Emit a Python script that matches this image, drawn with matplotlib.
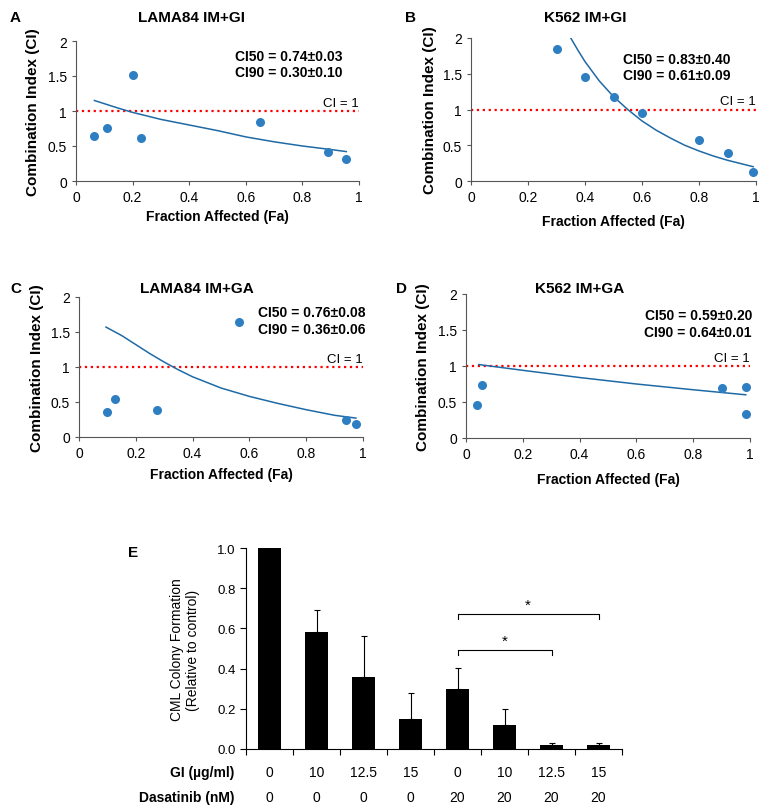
import matplotlib
matplotlib.use('Agg')
import matplotlib.pyplot as plt
import matplotlib.transforms as mtransforms
import numpy as np

plt.rcParams['font.family'] = ['Liberation Sans', 'DejaVu Sans']

# combination index panels
titles = ['LAMA84 IM+GI', 'K562 IM+GI', 'LAMA84 IM+GA', 'K562 IM+GA']
letters = ['A', 'B', 'C', 'D']
ci_text = ['CI50 = 0.74\u00b10.03\nCI90 = 0.30\u00b10.10',
           'CI50 = 0.83\u00b10.40\nCI90 = 0.61\u00b10.09',
           'CI50 = 0.76\u00b10.08\nCI90 = 0.36\u00b10.06',
           'CI50 = 0.59\u00b10.20\nCI90 = 0.64\u00b10.01']

fa_a = [0.065, 0.11, 0.20, 0.23, 0.65, 0.89, 0.955]
ci_a = [0.64, 0.76, 1.51, 0.62, 0.85, 0.42, 0.31]
fa_b = [0.30, 0.40, 0.50, 0.60, 0.80, 0.90, 0.99]
ci_b = [1.84, 1.45, 1.17, 0.95, 0.58, 0.39, 0.13]
fa_c = [0.10, 0.125, 0.275, 0.565, 0.94, 0.975]
ci_c = [0.36, 0.54, 0.38, 1.65, 0.24, 0.19]
fa_d = [0.04, 0.055, 0.90, 0.985, 0.985]
ci_d = [0.46, 0.74, 0.69, 0.71, 0.34]

# fitted curves
fit_fa_a = [0.065, 0.15, 0.2, 0.3, 0.4, 0.5, 0.6, 0.7, 0.8, 0.9, 0.955]
fit_ci_a = [1.15, 1.04, 0.98, 0.88, 0.80, 0.72, 0.63, 0.56, 0.50, 0.45, 0.42]
fit_fa_b = [0.35, 0.375, 0.4, 0.45, 0.5, 0.55, 0.6, 0.65, 0.7, 0.75, 0.8, 0.85, 0.9, 0.95, 0.99]
fit_ci_b = [2.0, 1.83, 1.67, 1.40, 1.18, 1.0, 0.84, 0.71, 0.60, 0.50, 0.42, 0.35, 0.29, 0.24, 0.20]
fit_fa_c = [0.095, 0.15, 0.2, 0.25, 0.3, 0.35, 0.4, 0.45, 0.5, 0.6, 0.7, 0.8, 0.9, 0.975]
fit_ci_c = [1.57, 1.45, 1.32, 1.19, 1.07, 0.96, 0.86, 0.78, 0.70, 0.58, 0.48, 0.39, 0.31, 0.27]
fit_fa_d = [0.045, 0.2, 0.4, 0.6, 0.8, 0.985]
fit_ci_d = [1.02, 0.94, 0.84, 0.75, 0.67, 0.60]

# colony formation panel
bar_vals = [1.0, 0.58, 0.36, 0.15, 0.30, 0.12, 0.02, 0.018]
bar_err = [0.0, 0.11, 0.20, 0.13, 0.105, 0.08, 0.01, 0.012]
gi_labels = ['0', '10', '12.5', '15', '0', '10', '12.5', '15']
das_labels = ['0', '0', '0', '0', '20', '20', '20', '20']

fig = plt.figure(figsize=(7.66, 8.12), dpi=100)
W, H = 766., 812.

def fax(l, r, t, b):
    return fig.add_axes([l / W, 1 - b / H, (r - l) / W, (b - t) / H])

boxes = [(76, 359, 42, 182), (471, 756, 39, 182), (79, 363, 298, 438), (466, 750, 295, 439)]
title_pos = [(192, 18), (585, 18), (197, 289), (580, 289)]
letter_pos = [(10, 18), (405, 18), (10, 289), (396, 289)]
xlab_y = [217, 222, 475, 480]
ylab_x = [33, 430, 37, 423]
scat = [(fa_a, ci_a), (fa_b, ci_b), (fa_c, ci_c), (fa_d, ci_d)]
fits = [(fit_fa_a, fit_ci_a), (fit_fa_b, fit_ci_b), (fit_fa_c, fit_ci_c), (fit_fa_d, fit_ci_d)]
txt_pos = [(0.94, 1.89), (0.91, 1.81), (1.01, 1.88), (1.007, 1.80)]

for i in range(4):
    l, r, t, b = boxes[i]
    ax = fax(l, r, t, b)
    ax.plot([0, 1], [1, 1], color='red', linestyle=':', linewidth=1.6)
    ax.plot(fits[i][0], fits[i][1], color='#1f6aa5', linewidth=1.1)
    ax.scatter(scat[i][0], scat[i][1], s=30, color='#2e7ec2', zorder=3, clip_on=False)
    ax.set_xlim(0, 1)
    ax.set_ylim(0, 2)
    ax.set_xticks([0, 0.2, 0.4, 0.6, 0.8, 1])
    ax.set_xticklabels(['0', '0.2', '0.4', '0.6', '0.8', '1'])
    ax.set_yticks([0, 0.5, 1, 1.5, 2])
    ax.set_yticklabels(['0', '0.5', '1', '1.5', '2'])
    ax.tick_params(labelsize=10, length=3, width=0.8, color='#555555')
    for s in ['top', 'right']:
        ax.spines[s].set_visible(False)
    for s in ['left', 'bottom']:
        ax.spines[s].set_color('#555555')
    ax.text(1.0, 1.03, 'CI = 1', ha='right', va='bottom', fontsize=9.5)
    ax.text(txt_pos[i][0], txt_pos[i][1], ci_text[i], ha='right', va='top',
            fontsize=10, fontweight='bold', linespacing=1.2)
    fig.text(ylab_x[i] / W, 1 - (t + b) / 2 / H, 'Combination Index (CI)', rotation=90,
             ha='center', va='center', fontsize=11, fontweight='bold')
    fig.text((l + r) / 2 / W, 1 - xlab_y[i] / H, 'Fraction Affected (Fa)',
             ha='center', va='center', fontsize=10, fontweight='bold')
    fig.text(title_pos[i][0] / W, 1 - title_pos[i][1] / H, titles[i],
             ha='center', va='center', fontsize=11, fontweight='bold')
    fig.text(letter_pos[i][0] / W, 1 - letter_pos[i][1] / H, letters[i],
             ha='left', va='center', fontsize=11, fontweight='bold')

# panel E
axe = fax(246, 622, 549, 750)
x = np.arange(len(bar_vals))
axe.bar(x, bar_vals, width=0.5, color='black')
axe.errorbar(x, bar_vals, yerr=[np.zeros(len(bar_err)), bar_err], fmt='none',
             ecolor='black', elinewidth=0.8, capsize=2.5, capthick=0.8)
axe.set_xlim(-0.5, 7.5)
axe.set_ylim(0, 1.0)
axe.set_xticks(np.arange(-0.5, 8, 1))
axe.set_xticklabels([])
axe.set_yticks([0, 0.2, 0.4, 0.6, 0.8, 1.0])
axe.set_yticklabels(['0.0', '0.2', '0.4', '0.6', '0.8', '1.0'], fontsize=9.5)
axe.tick_params(length=4, width=0.8)
for s in ['top', 'right']:
    axe.spines[s].set_visible(False)
fig.text(185 / W, 1 - 650 / H, 'CML Colony Formation\n(Relative to control)', rotation=90,
         ha='center', va='center', fontsize=10)

# significance brackets
for x0, x1, yb in [(4, 6, 0.495), (4, 7, 0.673)]:
    axe.plot([x0, x0, x1, x1], [yb - 0.025, yb, yb, yb - 0.025], color='black', linewidth=0.8)
    axe.text((x0 + x1) / 2, yb + 0.01, '*', ha='center', va='bottom', fontsize=11)

# dose table under the bars
trans = mtransforms.blended_transform_factory(axe.transData, fig.transFigure)
for k in range(len(bar_vals)):
    axe.text(x[k], 1 - 773 / H, gi_labels[k], transform=trans,
             ha='center', va='center', fontsize=10)
    axe.text(x[k], 1 - 798 / H, das_labels[k], transform=trans,
             ha='center', va='center', fontsize=10)
fig.text(234 / W, 1 - 773 / H, 'GI (\u00b5g/ml)', ha='right', va='center',
         fontsize=10, fontweight='bold')
fig.text(234 / W, 1 - 798 / H, 'Dasatinib (nM)', ha='right', va='center',
         fontsize=10, fontweight='bold')
fig.text(133 / W, 1 - 553 / H, 'E', ha='center', va='center', fontsize=11, fontweight='bold')

fig.savefig('out.png', dpi=100)
